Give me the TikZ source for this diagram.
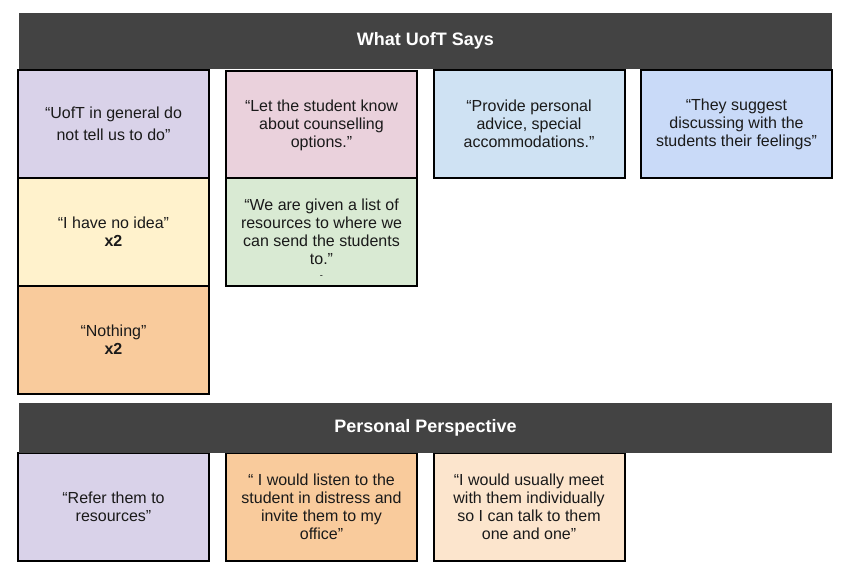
\documentclass[tikz,border=0pt]{standalone}
\usepackage{fontspec}
\setmainfont{Liberation Sans}
\definecolor{banner}{HTML}{434343}
\definecolor{lav}{HTML}{D9D2E9}
\definecolor{pinkc}{HTML}{EAD1DC}
\definecolor{lblue}{HTML}{CFE2F3}
\definecolor{bluec}{HTML}{C9DAF8}
\definecolor{yel}{HTML}{FFF2CC}
\definecolor{grn}{HTML}{D9EAD3}
\definecolor{org}{HTML}{F9CB9C}
\definecolor{lorg}{HTML}{FCE5CD}
\definecolor{txt}{HTML}{1A1A1A}
\tikzset{
  card/.style={draw=black, line width=1.5pt, rectangle, inner sep=0pt,
    minimum width=143.25pt, minimum height=81pt, align=center, text=txt,
    font=\fontsize{12}{13.5}\selectfont},
  bannerbox/.style={fill=banner, rectangle, inner sep=0pt, minimum width=609.75pt,
    text=white, font=\fontsize{13.5}{16}\selectfont\bfseries}
}
\begin{document}
\begin{tikzpicture}[x=0.75pt,y=-0.75pt]
\useasboundingbox (0,0) rectangle (852,576);
% top banner
\node[bannerbox, minimum height=42pt] (top) at (425.5,41) {What UofT Says};
% column 1
\node[card, fill=lav] (a1) at (113.5,124) {“UofT in general do\\[3pt]not tell us to do”};
\node[card, fill=yel] (a2) at (113.5,232) {“I have no idea”\\\textbf{x2}};
\node[card, fill=org] (a3) at (113.5,340) {“Nothing”\\\textbf{x2}};
% column 2
\node[card, fill=pinkc] (b1) at (321.5,125) {“Let the student know\\about counselling\\options.”};
\node[card, fill=grn] (b2) at (321.5,232) {“We are given a list of\\resources to where we\\can send the students\\\ooalign{to.”\cr\hfil\raisebox{-10pt}[0pt][0pt]{\scriptsize -}\hfil\cr}};
% column 3 and 4
\node[card, fill=lblue] (c1) at (529,124) {“Provide personal\\advice, special\\accommodations.”};
\node[card, fill=bluec] (d1) at (736.5,124) {“They suggest\\discussing with the\\students their feelings”};
% bottom row
\node[card, fill=lav] (e1) at (113.5,507) {“Refer them to\\resources”};
\node[card, fill=org] (e2) at (321.5,507) {“ I would listen to the\\student in distress and\\invite them to my\\office”};
\node[card, fill=lorg] (e3) at (529,507) {“I would usually meet\\with them individually\\so I can talk to them\\one and one”};
% second banner
\node[bannerbox, minimum height=37.5pt] (mid) at (425.5,428) {Personal Perspective};
\end{tikzpicture}
\end{document}
